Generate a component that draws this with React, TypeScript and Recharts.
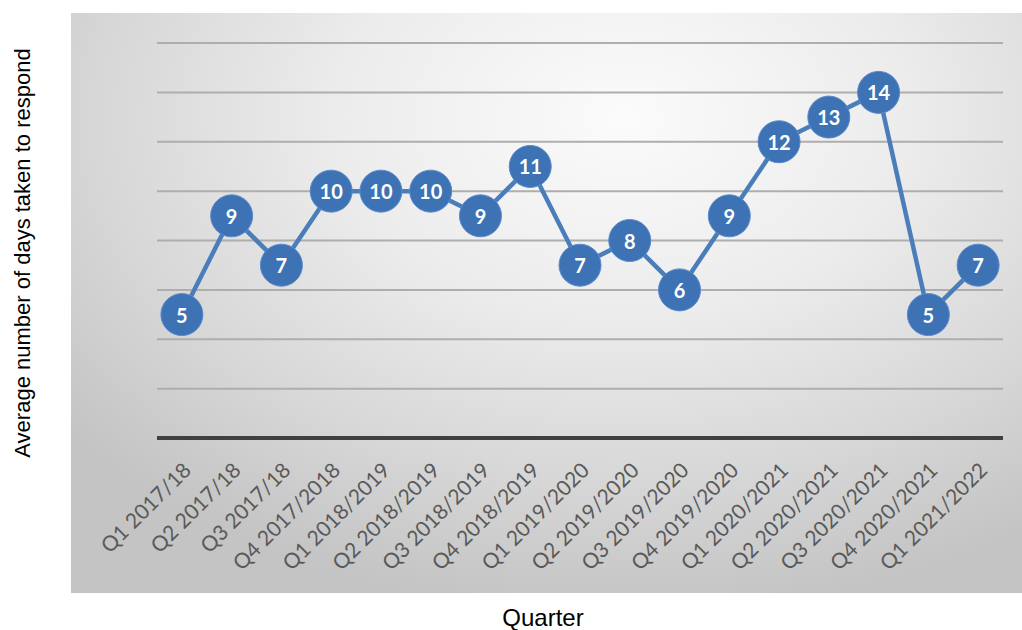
import React from 'react';
import { LineChart, Line, XAxis, YAxis, CartesianGrid, LabelList } from 'recharts';

const quarters = [
  'Q1 2017/18',
  'Q2 2017/18',
  'Q3 2017/18',
  'Q4 2017/2018',
  'Q1 2018/2019',
  'Q2 2018/2019',
  'Q3 2018/2019',
  'Q4 2018/2019',
  'Q1 2019/2020',
  'Q2 2019/2020',
  'Q3 2019/2020',
  'Q4 2019/2020',
  'Q1 2020/2021',
  'Q2 2020/2021',
  'Q3 2020/2021',
  'Q4 2020/2021',
  'Q1 2021/2022',
];
const avgDays = [5, 9, 7, 10, 10, 10, 9, 11, 7, 8, 6, 9, 12, 13, 14, 5, 7];
const yTicks = [0, 2, 4, 6, 8, 10, 12, 14, 16];

const yTitle = 'Average number of days taken to respond';
const xTitle = 'Quarter';

const chartData = quarters.map((q, i) => ({ quarter: q, days: avgDays[i] }));

const BLUE = '#3d72b5';

const Dot = (props: any) => {
  const { cx, cy } = props;
  if (cx == null || cy == null) return null;
  return <circle cx={cx} cy={cy} r={21} fill={BLUE} stroke="#5a8acb" strokeWidth={1} />;
};

const ValueLabel = (props: any) => {
  const { x, y, value } = props;
  return (
    <text
      x={x}
      y={y}
      textAnchor="middle"
      dominantBaseline="central"
      fill="#ffffff"
      fontFamily="Lato, 'Open Sans', sans-serif"
      fontWeight={700}
      fontSize={20}
    >
      {value}
    </text>
  );
};

export default function App() {
  return (
    <div style={{ position: 'absolute', left: 0, top: 0, width: 1022, height: 630, background: '#fff' }}>
      <div
        style={{
          position: 'absolute',
          left: 71,
          top: 13,
          width: 951,
          height: 580,
          background:
            'radial-gradient(ellipse 75% 85% at 58% 18%, #fbfbfb 0%, #ececec 40%, #d6d6d6 75%, #c4c4c4 100%)',
        }}
      />
      <div style={{ position: 'absolute', left: 0, top: 0 }}>
        <LineChart
          width={1022}
          height={630}
          data={chartData}
          margin={{ top: 43, right: 19, bottom: 42, left: 0 }}
        >
          <CartesianGrid horizontal vertical={false} stroke="#aeaeae" strokeWidth={2} />
          <YAxis
            domain={[0, 16]}
            ticks={yTicks}
            interval={0}
            width={157}
            tick={{ fontSize: 0, fill: 'none' }}
            tickFormatter={() => ''}
            axisLine={false}
            tickLine={false}
            label={{
              content: () => (
                <text
                  x={22}
                  y={253}
                  transform="rotate(-90 22 253)"
                  textAnchor="middle"
                  dominantBaseline="central"
                  fontFamily="'Liberation Sans', Arial, sans-serif"
                  fontSize={22}
                  fill="#000"
                >
                  {yTitle}
                </text>
              ),
            }}
          />
          <XAxis
            dataKey="quarter"
            scale="band"
            interval={0}
            height={150}
            axisLine={{ stroke: '#404040', strokeWidth: 4 }}
            tickLine={false}
            tickSize={0}
            tickMargin={23}
            angle={-45}
            textAnchor="end"
            tick={{ fill: '#595959', fontSize: 21, fontFamily: "Lato, 'Open Sans', sans-serif" }}
            label={{
              content: () => (
                <text
                  x={543}
                  y={617}
                  textAnchor="middle"
                  dominantBaseline="central"
                  fontFamily="'Liberation Sans', Arial, sans-serif"
                  fontSize={24}
                  fill="#000"
                >
                  {xTitle}
                </text>
              ),
            }}
          />
          <Line
            type="linear"
            dataKey="days"
            stroke="#4a7ebb"
            strokeWidth={4.5}
            dot={<Dot />}
            activeDot={false}
            isAnimationActive={false}
          >
            <LabelList dataKey="days" content={<ValueLabel />} />
          </Line>
        </LineChart>
      </div>
    </div>
  );
}
